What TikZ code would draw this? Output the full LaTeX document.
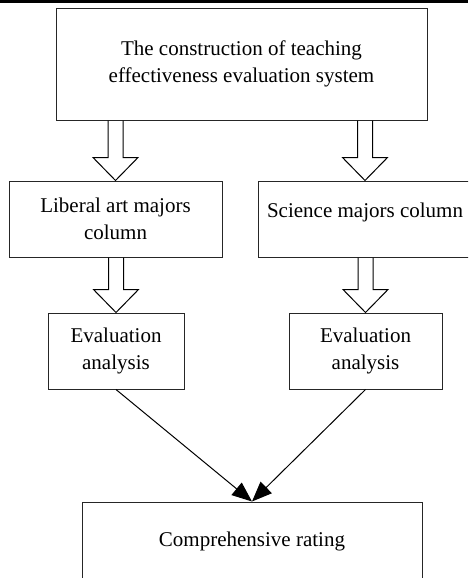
\documentclass[tikz,border=0pt]{standalone}
\usepackage{fontspec}
\setmainfont{Liberation Serif}
\usetikzlibrary{positioning, arrows.meta, calc}

% open block arrow from the bottom of #1 down to the top of #2
\newcommand{\hollowarrow}[2]{%
  \draw ($(#2.north |- #1.south)+(-7.5,0)$) -- ($(#2.north)+(-7.5,-23)$)
    -- ($(#2.north)+(-22.5,-23)$) -- (#2.north) -- ($(#2.north)+(22.5,-23)$)
    -- ($(#2.north)+(7.5,-23)$) -- ($(#2.north |- #1.south)+(7.5,0)$);}

\begin{document}
\begin{tikzpicture}[x=0.5pt, y=-0.5pt, line width=0.5pt,
  main box/.style={rectangle, draw=black!85, align=center, inner sep=0pt,
    minimum height=38pt, font=\fontsize{10.5}{13.5}\selectfont}]

\useasboundingbox (0,0) rectangle (468,578);
\clip (0,0) rectangle (468,578);
\fill (0,0) rectangle (468,3);

\node[main box, minimum width=185.5pt, minimum height=56pt] (top) at (241.5,64)
  {The construction of teaching\\effectiveness evaluation system};
\node[main box, minimum width=106.5pt] (liberal) at (115.5,219) {Liberal art majors\\column};
\node[main box, minimum width=107pt, text depth=9pt] (science) at (365,219) {Science majors column};
\node[main box, minimum width=68pt] (evalL) at (116,351) {Evaluation\\analysis};
\node[main box, minimum width=76.5pt] (evalR) at (365.5,351) {Evaluation\\analysis};
\node[main box, minimum width=170pt, minimum height=39pt] (rating) at (252,541) {Comprehensive rating};

\hollowarrow{top}{liberal}
\hollowarrow{top}{science}
\hollowarrow{liberal}{evalL}
\hollowarrow{science}{evalR}

\path[-{Triangle[length=10pt, width=8pt]}]
(evalL.south) edge (rating.north)
(evalR.south) edge (rating.north);
\end{tikzpicture}
\end{document}
